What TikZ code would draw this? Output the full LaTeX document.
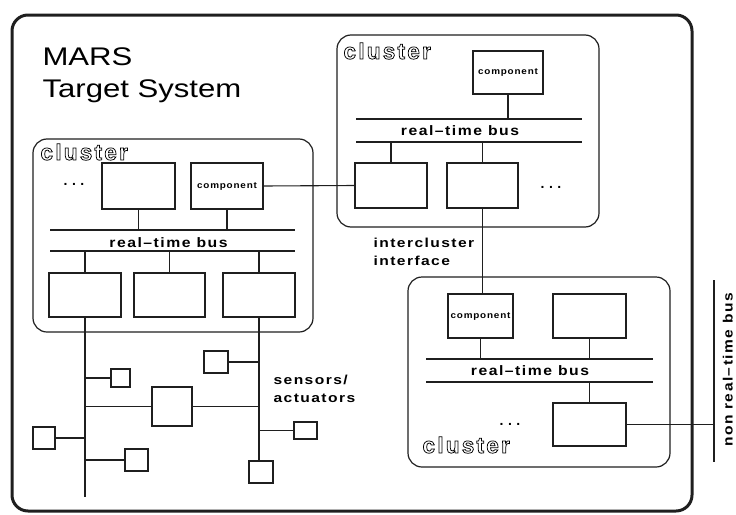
\documentclass[tikz,border=0pt]{standalone}
\usepackage{fontspec}
\setmainfont{Liberation Sans}
\newfontfamily\titlefont[FakeStretch=1.22]{Liberation Sans}
\newfontfamily\lblfont[FakeStretch=1.2,LetterSpace=11]{Liberation Sans}
\newfontfamily\compfont[FakeStretch=1.1,LetterSpace=9]{Liberation Sans}
\newfontfamily\busfont[FakeStretch=1.15,LetterSpace=11]{Liberation Sans}
\newfontfamily\clusterfont[LetterSpace=10]{Liberation Sans}
% hollow lettering: stroke the glyph outlines instead of filling them
\newcommand{\clusterword}{\special{pdf:literal direct 1 Tr 0.75 w}cluster\special{pdf:literal direct 0 Tr}}
\newcommand{\threedots}{.\kern4.5pt.\kern4.5pt.}
\begin{document}
\begin{tikzpicture}[x=1pt,y=-1pt,
  line width=1.1pt,
  ink/.style={draw=black!88},
  box/.style={ink, rectangle, inner sep=0pt, outer sep=0pt},
  unitbox/.style 2 args={box, minimum width=#1, minimum height=#2},
  frame/.style={ink, line width=3pt, rounded corners=16pt},
  clusterframe/.style={ink, line width=1.2pt, rounded corners=14pt},
  wire/.style={ink, line width=1.1pt},
  comptext/.style={font=\fontsize{9}{10}\compfont\bfseries},
  bustext/.style={anchor=base, inner sep=0pt, font=\fontsize{13.7}{15}\busfont\bfseries},
  label/.style={anchor=base west, inner sep=0pt, align=left, font=\fontsize{13}{18}\lblfont\bfseries},
  dotstext/.style={anchor=base, inner sep=0pt, font=\fontsize{14}{15}\bfseries},
  clusterlabel/.style={anchor=base west, inner sep=0pt, font=\fontsize{22.5}{24}\clusterfont\bfseries},
]
\useasboundingbox (0,0) rectangle (736,514);

% system boundary
\draw[frame] (12,15) rectangle (692,511);
\node[anchor=base west, inner sep=0pt, align=left, font=\fontsize{25.5}{32}\titlefont] (title) at (42,97) {MARS\\Target System};

% ---------- upper right cluster ----------
\draw[clusterframe] (337,35) rectangle (599,227);
\node[clusterlabel] (cl1) at (343,59) {\clusterword};
\node[unitbox={70}{43}, comptext] (k1c) at (508,72.5) {component};
\node[unitbox={72}{45}] (k1a) at (391,185.5) {};
\node[unitbox={71}{45}] (k1b) at (482.5,185.5) {};
\node[dotstext] (d1) at (551,188) {\threedots};
\coordinate (b1tl) at (356,119); \coordinate (b1tr) at (582,119);
\coordinate (b1bl) at (356,142); \coordinate (b1br) at (582,142);
\draw[wire] (b1tl) -- (b1tr);
\draw[wire] (b1bl) -- (b1br);
\node[bustext] (bus1) at (460,135.5) {real–time bus};
\draw[wire] (k1c.south) -- (k1c.south |- b1tl);
\draw[wire] (k1a.north) -- (k1a.north |- b1bl);
\draw[wire] (k1b.north) -- (k1b.north |- b1bl);

% ---------- left cluster ----------
\draw[clusterframe] (33,139) rectangle (313,332);
\node[clusterlabel] (cl2) at (40,160) {\clusterword};
\node[dotstext] (d2) at (74,185) {\threedots};
\node[unitbox={73}{46}] (k2c) at (138.5,186) {};
\node[unitbox={72}{46}, comptext] (k2d) at (227,186) {component};
\coordinate (b2tl) at (50,230); \coordinate (b2tr) at (295,230);
\coordinate (b2bl) at (50,251); \coordinate (b2br) at (295,251);
\draw[wire] (b2tl) -- (b2tr);
\draw[wire] (b2bl) -- (b2br);
\node[bustext] (bus2) at (168.5,247) {real–time bus};
\node[unitbox={72}{44}] (k2e) at (85,295) {};
\node[unitbox={71}{44}] (k2f) at (169.5,295) {};
\node[unitbox={72}{44}] (k2g) at (259,295) {};
\draw[wire] (k2c.south) -- (k2c.south |- b2tl);
\draw[wire] (k2d.south) -- (k2d.south |- b2tl);
\draw[wire] (k2e.north) -- (k2e.north |- b2bl);
\draw[wire] (k2f.north) -- (k2f.north |- b2bl);
\draw[wire] (k2g.north) -- (k2g.north |- b2bl);

% gateway link between the two upper clusters
\draw[wire] (k2d.east) -- (k1a.west);

% ---------- lower right cluster ----------
\draw[clusterframe] (408,277) rectangle (670,467);
\node[unitbox={65}{44}, comptext] (k3c) at (480.5,316) {component};
\node[unitbox={73}{44}] (k3i) at (589.5,316) {};
\coordinate (b3tl) at (426,359); \coordinate (b3tr) at (653,359);
\coordinate (b3bl) at (426,382); \coordinate (b3br) at (653,382);
\draw[wire] (b3tl) -- (b3tr);
\draw[wire] (b3bl) -- (b3br);
\node[bustext] (bus3) at (530,375.5) {real–time bus};
\node[unitbox={73}{43}] (k3j) at (589.5,424.5) {};
\node[dotstext] (d3) at (510,425) {\threedots};
\node[clusterlabel] (cl3) at (422,453) {\clusterword};
\draw[wire] (k3c.south) -- (k3c.south |- b3tl);
\draw[wire] (k3i.south) -- (k3i.south |- b3tl);
\draw[wire] (k3j.north) -- (k3j.north |- b3bl);

% intercluster interface
\draw[wire] (k1b.south) -- (k1b.south |- k3c.north);
\node[label] (icl) at (373,265) {intercluster\\interface};

% non real-time bus
\coordinate (nrtop) at (714,280); \coordinate (nrbot) at (714,462);
\draw[wire] (nrtop) -- (nrbot);
\draw[wire] (k3j.east) -- (k3j.east -| nrtop);
\node[bustext, rotate=90, font=\fontsize{13.5}{14}\busfont\bfseries] (nrt) at (732.5,370) {non real–time bus};

% ---------- sensors / actuators ----------
\coordinate (sensend) at (86,497);
\node[unitbox={19}{18}] (s1) at (120.5,378) {};
\node[unitbox={40}{39}] (s2) at (172,406.5) {};
\node[unitbox={24}{22}] (s3) at (216,362) {};
\node[unitbox={22}{22}] (s4) at (44,438) {};
\node[unitbox={23}{22}] (s5) at (136.5,460) {};
\node[unitbox={23}{17}] (s6) at (305.5,430.5) {};
\node[unitbox={24}{22}] (s7) at (261,472) {};
\draw[wire] (k2e.south) -- (k2e.south |- sensend);
\draw[wire] (k2g.south) -- (k2g.south |- s7.north);
\draw[wire] (s1.west) -- (s1.west -| k2e.south);
\draw[wire] (s2.west) -- (s2.west -| k2e.south);
\draw[wire] (s2.east) -- (s2.east -| k2g.south);
\draw[wire] (s3.east) -- (s3.east -| k2g.south);
\draw[wire] (s4.east) -- (s4.east -| k2e.south);
\draw[wire] (s5.west) -- (s5.west -| k2e.south);
\draw[wire] (s6.west) -- (s6.west -| k2g.south);
\node[label] (sens) at (273,402) {sensors/\\actuators};
\end{tikzpicture}
\end{document}
